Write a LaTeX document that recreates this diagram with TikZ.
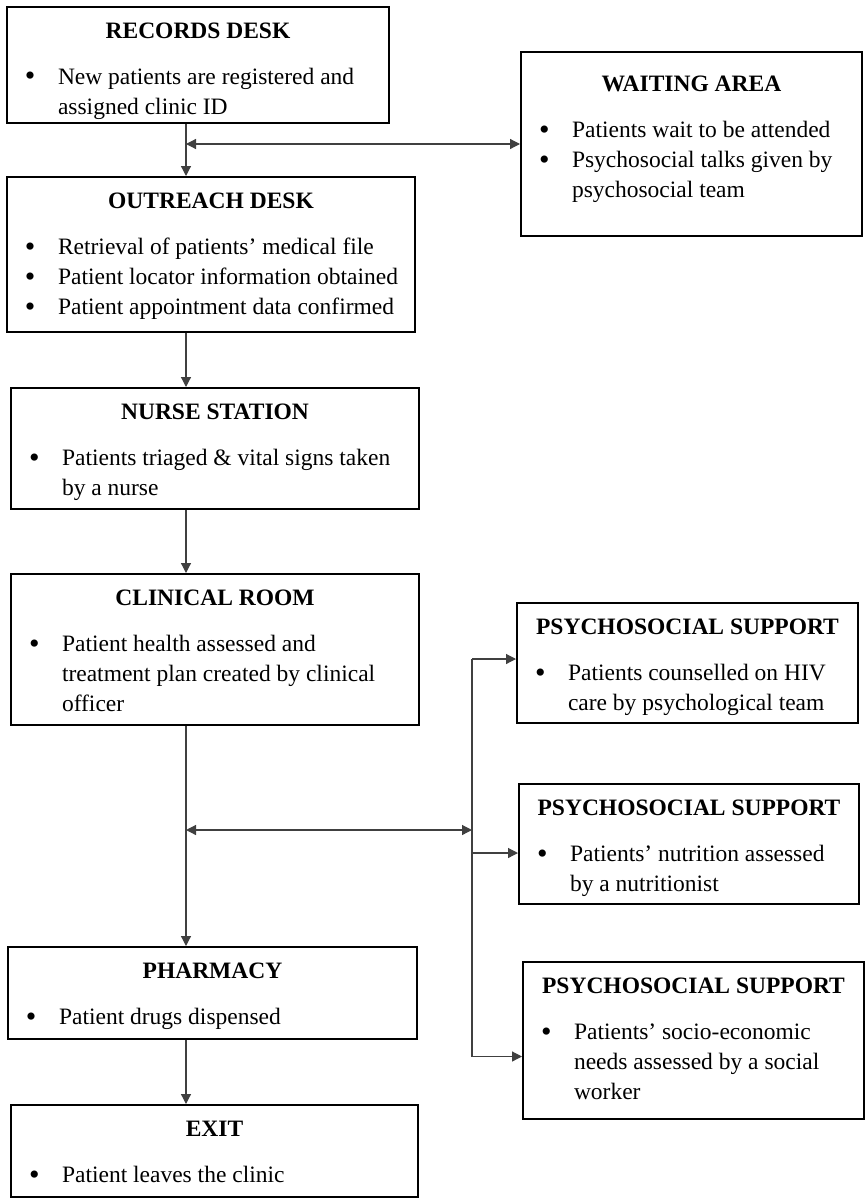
\documentclass[tikz,border=0pt]{standalone}
\usepackage{fontspec}
\setmainfont{Liberation Serif}
\usepackage{tikz}
\usetikzlibrary{fit,arrows.meta}
\newcommand{\boxtext}[3]{\begin{tabular}{@{}p{18pt}@{}l@{}}
  \multicolumn{2}{@{}c@{}}{\makebox[#1]{\bfseries #2}}\\[8pt]
  #3\end{tabular}}
\newcommand{\bl}{\hspace*{1.5pt}\raisebox{-0.7pt}{\fontsize{15pt}{15pt}\selectfont\textbullet}}

\begin{document}
\begin{tikzpicture}[x=0.5pt,y=-0.5pt,
  box/.style={draw, line width=1pt, inner sep=0pt},
  tx/.style={inner sep=0pt, anchor=north, yshift=-5.6pt,
    font=\fontsize{11.75pt}{15pt}\selectfont},
  arr/.style={draw=black!75, line width=0.6pt, -{Triangle[length=5pt,width=5pt]}},
  darr/.style={arr, {Triangle[length=5pt,width=5pt]}-{Triangle[length=5pt,width=5pt]}}]
\useasboundingbox[fill=white] (0,0) rectangle (866,1199);

\node[box, fit={(7,7) (389,123)}, label={[tx]north:{\boxtext{176pt}{RECORDS DESK}{%
  \bl & New patients are registered and\\ & assigned clinic ID}}}] (rec) {};
\node[box, fit={(521,52) (862,236)}, label={[tx, yshift=-4pt]north:{\boxtext{155.5pt}{WAITING AREA}{%
  \bl & Patients wait to be attended\\ \bl & Psychosocial talks given by\\ & psychosocial team}}}] (wait) {};
\node[box, fit={(7,177) (415,332)}, label={[tx]north:{\boxtext{189pt}{OUTREACH DESK}{%
  \bl & Retrieval of patients' medical file\\ \bl & Patient locator information obtained\\
  \bl & Patient appointment data confirmed}}}] (out) {};
\node[box, fit={(11,388) (419,509)}, label={[tx]north:{\boxtext{189pt}{NURSE STATION}{%
  \bl & Patients triaged \& vital signs taken\\ & by a nurse}}}] (nur) {};
\node[box, fit={(11,574) (419,725)}, label={[tx]north:{\boxtext{189pt}{CLINICAL ROOM}{%
  \bl & Patient health assessed and\\ & treatment plan created by clinical\\ & officer}}}] (cli) {};
\node[box, fit={(517,603) (858,723)}, label={[tx]north:{\boxtext{155.5pt}{PSYCHOSOCIAL SUPPORT}{%
  \bl & Patients counselled on HIV\\ & care by psychological team}}}] (ps1) {};
\node[box, fit={(519,784) (859,904)}, label={[tx]north:{\boxtext{155pt}{PSYCHOSOCIAL SUPPORT}{%
  \bl & Patients' nutrition assessed\\ & by a nutritionist}}}] (ps2) {};
\node[box, fit={(523,962) (864,1119)}, label={[tx]north:{\boxtext{155.5pt}{PSYCHOSOCIAL SUPPORT}{%
  \bl & Patients' socio-economic\\ & needs assessed by a social\\ & worker}}}] (ps3) {};
\node[box, fit={(8,947) (417,1039)}, label={[tx]north:{\boxtext{189.5pt}{PHARMACY}{%
  \bl & Patient drugs dispensed}}}] (pha) {};
\node[box, fit={(11,1105) (418,1197)}, label={[tx]north:{\boxtext{188.5pt}{EXIT}{%
  \bl & Patient leaves the clinic}}}] (exit) {};

\coordinate (sp) at (186,0);
\coordinate (bus) at (472,830);
\coordinate (in1) at ([yshift=2pt]ps1.west);
\coordinate (in2) at ([yshift=-4.5pt]ps2.west);
\coordinate (in3) at ([yshift=-8pt]ps3.west);

\draw[arr] (rec.south -| sp) -- (out.north -| sp);
\draw[darr] (wait.west -| sp) -- (wait.west);
\draw[arr] (out.south -| sp) -- (nur.north -| sp);
\draw[arr] (nur.south -| sp) -- (cli.north -| sp);
\draw[arr] (cli.south -| sp) -- (pha.north -| sp);
\draw[arr] (pha.south -| sp) -- (exit.north -| sp);
\draw[darr] (bus -| sp) -- (bus);
\draw[arr] (in1 -| bus) -- (in1);
\draw[arr] (in2 -| bus) -- (in2);
\draw[arr] (in1 -| bus) |- (in3);
\end{tikzpicture}
\end{document}
